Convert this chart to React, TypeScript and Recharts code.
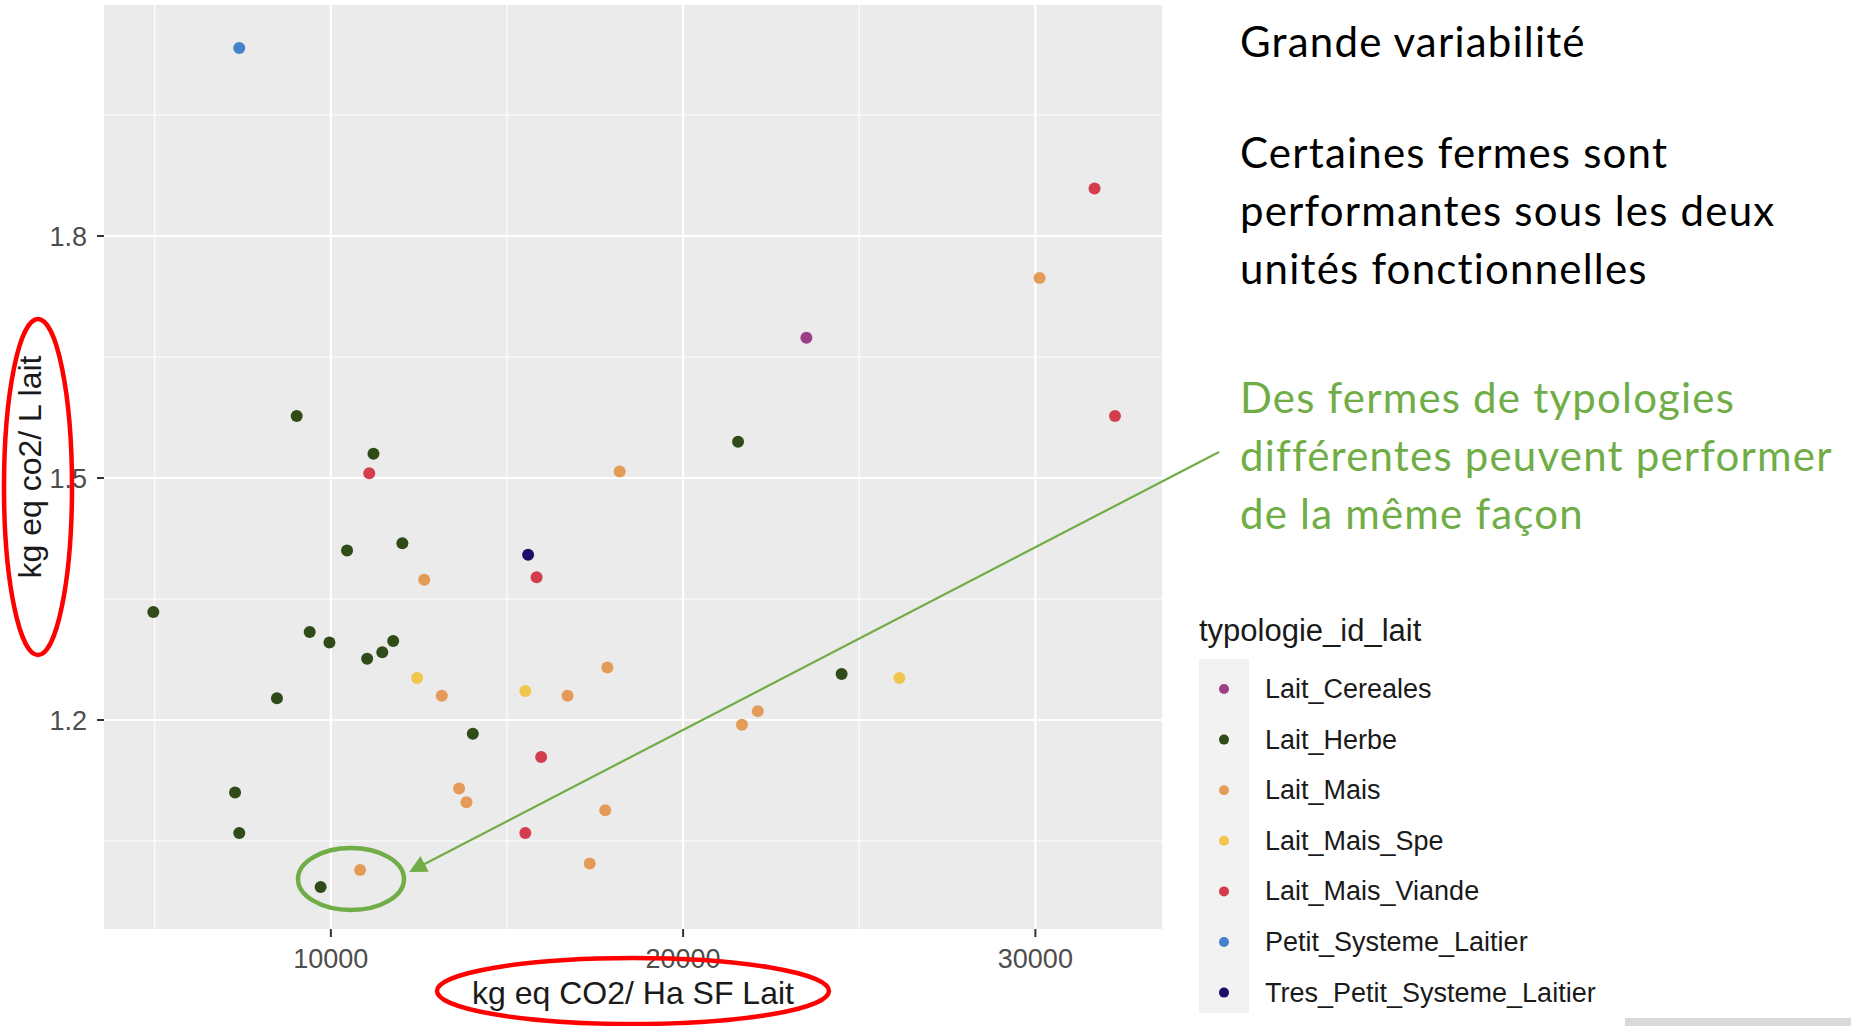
import { ScatterChart, Scatter, XAxis, YAxis, CartesianGrid } from 'recharts';

// typologies and their colours (legend order)
const CATEGORIES = [
  'Lait_Cereales',
  'Lait_Herbe',
  'Lait_Mais',
  'Lait_Mais_Spe',
  'Lait_Mais_Viande',
  'Petit_Systeme_Laitier',
  'Tres_Petit_Systeme_Laitier',
];
const COLORS = ['#9C3F86', '#2F4C18', '#E49B58', '#F0C64C', '#D33D4D', '#4483CC', '#1E0C6B'];

// x = kg eq CO2 / Ha SF Lait, y = kg eq co2 / L lait
const laitCereales = [{ x: 23500, y: 1.674 }];
const laitHerbe = [
  { x: 9030, y: 1.577 },
  { x: 11210, y: 1.53 },
  { x: 21560, y: 1.545 },
  { x: 10460, y: 1.41 },
  { x: 12030, y: 1.419 },
  { x: 4960, y: 1.334 },
  { x: 9400, y: 1.309 },
  { x: 9960, y: 1.296 },
  { x: 11030, y: 1.276 },
  { x: 11460, y: 1.284 },
  { x: 11770, y: 1.298 },
  { x: 8470, y: 1.227 },
  { x: 24500, y: 1.257 },
  { x: 14030, y: 1.183 },
  { x: 7280, y: 1.11 },
  { x: 7400, y: 1.06 },
  { x: 9710, y: 0.993 },
];
const laitMais = [
  { x: 30120, y: 1.748 },
  { x: 18200, y: 1.508 },
  { x: 12650, y: 1.374 },
  { x: 13150, y: 1.23 },
  { x: 16720, y: 1.23 },
  { x: 17850, y: 1.265 },
  { x: 21670, y: 1.194 },
  { x: 22120, y: 1.211 },
  { x: 13640, y: 1.115 },
  { x: 13850, y: 1.098 },
  { x: 17790, y: 1.088 },
  { x: 17350, y: 1.022 },
  { x: 10830, y: 1.014 },
];
const laitMaisSpe = [
  { x: 12450, y: 1.252 },
  { x: 15520, y: 1.236 },
  { x: 26140, y: 1.252 },
];
const laitMaisViande = [
  { x: 31680, y: 1.859 },
  { x: 32260, y: 1.577 },
  { x: 11090, y: 1.506 },
  { x: 15840, y: 1.377 },
  { x: 15970, y: 1.154 },
  { x: 15520, y: 1.06 },
];
const petitSysteme = [{ x: 7400, y: 2.033 }];
const tresPetitSysteme = [{ x: 15600, y: 1.405 }];

const SERIES = [laitCereales, laitHerbe, laitMais, laitMaisSpe, laitMaisViande, petitSysteme, tresPetitSysteme];

const X_TICKS = [10000, 20000, 30000];
const X_MINOR = [5000, 15000, 25000];
const Y_TICKS = [1.2, 1.5, 1.8];
const Y_MINOR = [1.05, 1.35, 1.65, 1.95];

const BLACK_LINES = ['Certaines fermes sont', 'performantes sous les deux', 'unités fonctionnelles'];
const GREEN_LINES = ['Des fermes de typologies', 'différentes peuvent performer', 'de la même façon'];

const GG_FONT = '"Liberation Sans", Arial, sans-serif';
const SLIDE_FONT = 'Lato, "Open Sans", sans-serif';
const GREEN = '#70AD47';

const dot = (color: string) => (props: any) =>
  props.cx == null ? <g /> : <circle cx={props.cx} cy={props.cy} r={6} fill={color} />;

export default function App() {
  return (
    <div style={{ position: 'absolute', left: 0, top: 0, width: 1851, height: 1026, background: '#fff', overflow: 'hidden' }}>
      <ScatterChart width={1851} height={1026} margin={{ top: 5, right: 689, bottom: 0, left: 0 }}>
        <CartesianGrid
          fill="#EBEBEB"
          stroke="#FFFFFF"
          strokeWidth={1.1}
          horizontalValues={Y_MINOR}
          verticalValues={X_MINOR}
        />
        <CartesianGrid stroke="#FFFFFF" strokeWidth={2.2} horizontalValues={Y_TICKS} verticalValues={X_TICKS} />
        <XAxis
          type="number"
          dataKey="x"
          domain={[3560, 33595]}
          ticks={X_TICKS}
          allowDataOverflow
          height={97}
          axisLine={false}
          tickSize={8}
          tickMargin={12}
          tickLine={{ stroke: '#333333', strokeWidth: 2 }}
          tick={{ fill: '#4D4D4D', fontSize: 27, fontFamily: GG_FONT }}
          label={{
            value: 'kg eq CO2/ Ha SF Lait',
            position: 'center',
            dy: 15,
            fill: '#1A1A1A',
            fontSize: 32,
            fontFamily: GG_FONT,
          }}
        />
        <YAxis
          type="number"
          dataKey="y"
          domain={[0.9409, 2.0864]}
          ticks={Y_TICKS}
          allowDataOverflow
          width={104}
          axisLine={false}
          tickSize={7}
          tickMargin={10}
          tickFormatter={(v: number) => v.toFixed(1)}
          tickLine={{ stroke: '#333333', strokeWidth: 2 }}
          tick={{ fill: '#4D4D4D', fontSize: 27, fontFamily: GG_FONT }}
          label={{
            value: 'kg eq co2/ L lait',
            position: 'center',
            angle: -90,
            dx: -22,
            fill: '#1A1A1A',
            fontSize: 32,
            fontFamily: GG_FONT,
          }}
        />
        {SERIES.map((data, i) => (
          <Scatter
            key={CATEGORIES[i]}
            name={CATEGORIES[i]}
            data={data}
            fill={COLORS[i]}
            shape={dot(COLORS[i])}
            isAnimationActive={false}
          />
        ))}
      </ScatterChart>

      {/* slide annotations and legend */}
      <svg
        width={1851}
        height={1026}
        style={{ position: 'absolute', left: 0, top: 0, pointerEvents: 'none' }}
      >
        <defs>
          <marker id="arrowHead" markerWidth="8" markerHeight="8" refX="6" refY="4" orient="auto" markerUnits="strokeWidth">
            <path d="M0,0 L8,4 L0,8 Z" fill={GREEN} />
          </marker>
        </defs>

        <ellipse cx={38} cy={487} rx={34} ry={168} fill="none" stroke="#FF0000" strokeWidth={4.5} />
        <ellipse cx={633} cy={991} rx={196} ry={33} fill="none" stroke="#FF0000" strokeWidth={4.5} />
        <ellipse cx={351} cy={879} rx={53} ry={31} fill="none" stroke={GREEN} strokeWidth={4.5} />
        <line x1={1219} y1={452} x2={413} y2={870} stroke={GREEN} strokeWidth={2.2} markerEnd="url(#arrowHead)" />

        <text x={1240} y={57} fontFamily={SLIDE_FONT} fontSize={42} letterSpacing={1.2} fill="#000">
          Grande variabilité
        </text>
        {BLACK_LINES.map((t, i) => (
          <text key={t} x={1240} y={168 + i * 58} fontFamily={SLIDE_FONT} fontSize={42} letterSpacing={1.2} fill="#000">
            {t}
          </text>
        ))}
        {GREEN_LINES.map((t, i) => (
          <text key={t} x={1240} y={413 + i * 58} fontFamily={SLIDE_FONT} fontSize={42} letterSpacing={1.2} fill={GREEN}>
            {t}
          </text>
        ))}

        <text x={1199} y={630} dominantBaseline="central" fontFamily={GG_FONT} fontSize={31} fill="#1A1A1A">
          typologie_id_lait
        </text>
        <rect x={1199} y={659} width={50} height={354} fill="#F2F2F2" />
        {CATEGORIES.map((c, i) => (
          <g key={c}>
            <circle cx={1224} cy={689 + i * 50.6} r={5} fill={COLORS[i]} />
            <text x={1265} y={689 + i * 50.6} dominantBaseline="central" fontFamily={GG_FONT} fontSize={27} fill="#1A1A1A">
              {c}
            </text>
          </g>
        ))}
        <rect x={1625} y={1018} width={226} height={8} fill="#D9D9D9" />
      </svg>
    </div>
  );
}
